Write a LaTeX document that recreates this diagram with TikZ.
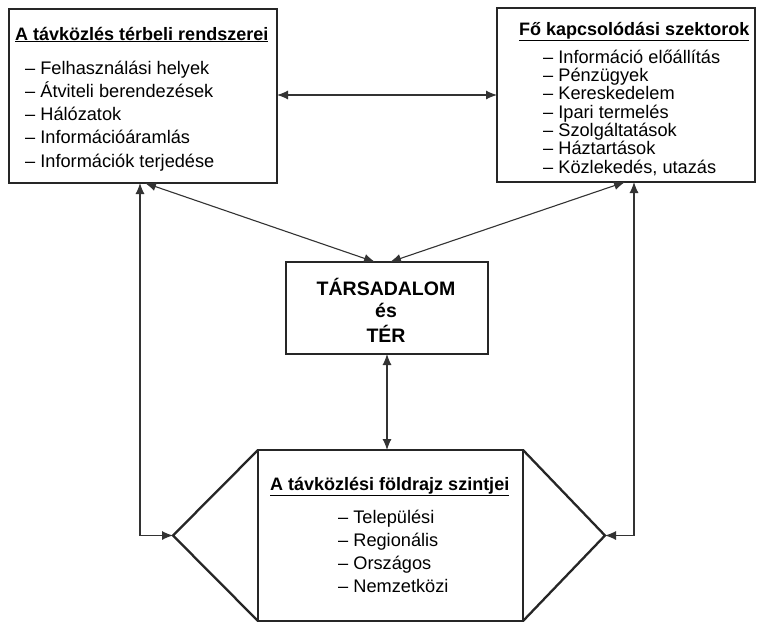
\documentclass[tikz,border=0pt]{standalone}
\usepackage{fontspec}
\setmainfont{Liberation Sans}
\usetikzlibrary{arrows.meta}

\begin{document}
\begin{tikzpicture}[x=1pt,y=-1pt,
  box/.style={draw=black!85, line width=2.3pt, inner sep=0pt, outer sep=0pt},
  conn/.style={draw=black!80, line width=1.1pt, {Latex[length=11pt,width=9pt]}-{Latex[length=11pt,width=9pt]}},
  head/.style={inner sep=0pt, anchor=base west, font=\fontsize{18}{18}\selectfont\bfseries},
  item/.style={inner sep=0pt, anchor=base west, font=\fontsize{18.2}{18}\selectfont},
  core/.style={inner sep=0pt, anchor=base, font=\fontsize{19.5}{19}\selectfont\bfseries}]

\useasboundingbox (0,0) rectangle (757,624);
\fill[white] (0,0) rectangle (757,624);

% boxes
\node[box, minimum width=268pt, minimum height=174pt] (sys) at (143,96) {};
\node[box, minimum width=258pt, minimum height=174pt] (sec) at (626,95) {};
\node[box, minimum width=202pt, minimum height=92pt] (soc) at (387,308) {};
\node[box, minimum width=265pt, minimum height=171pt] (lev) at (390.5,535.5) {};
\coordinate (lv) at (173,535.5);
\coordinate (rv) at (605,535.5);

% pointed ends of the levels block
\draw[box, line join=miter] (lev.north west) -- (lv) -- (lev.south west);
\draw[box, line join=miter] (lev.north east) -- (rv) -- (lev.south east);

% connectors
\draw[conn] ([yshift=1pt]sys.east) -- ([yshift=1pt]sys.east -| sec.west);
\draw[conn] ([xshift=2pt]sys.south) -- ([xshift=-12pt]soc.north);
\draw[conn] ([xshift=-1pt]sec.south) -- ([xshift=3pt]soc.north);
\draw[conn] ([xshift=-3pt]sys.south) |- (lv);
\draw[conn] ([xshift=8pt]sec.south) |- (rv);
\draw[conn] (soc.south) -- (soc.south |- lev.north);

% spatial systems
\node[head] (sysT) at (15,40) {\underline{A távközlés térbeli rendszerei}};
\foreach \t [count=\i from 0] in {Felhasználási helyek, Átviteli berendezések, Hálózatok, Információáramlás, Információk terjedése}
  \node[item] (sys\i) at (25,74+23.3*\i) {– \t};

% sectors
\node[head] (secT) at (519,35) {\underline{Fő kapcsolódási szektorok}};
\foreach \t [count=\i from 0] in {Információ előállítás, Pénzügyek, Kereskedelem, Ipari termelés, Szolgáltatások, Háztartások, {Közlekedés, utazás}}
  \node[item] (sec\i) at (543,63.3+18.33*\i) {– \t};

% society and space
\node[core] (soc1) at (386,295) {TÁRSADALOM};
\node[core] (soc2) at (386,317) {és};
\node[core] (soc3) at (386,342) {TÉR};

% levels
\node[head] (levT) at (270,490) {\underline{A távközlési földrajz szintjei}};
\foreach \t [count=\i from 0] in {Települési, Regionális, Országos, Nemzetközi}
  \node[item] (lev\i) at (338,523+23*\i) {– \t};

\end{tikzpicture}
\end{document}
